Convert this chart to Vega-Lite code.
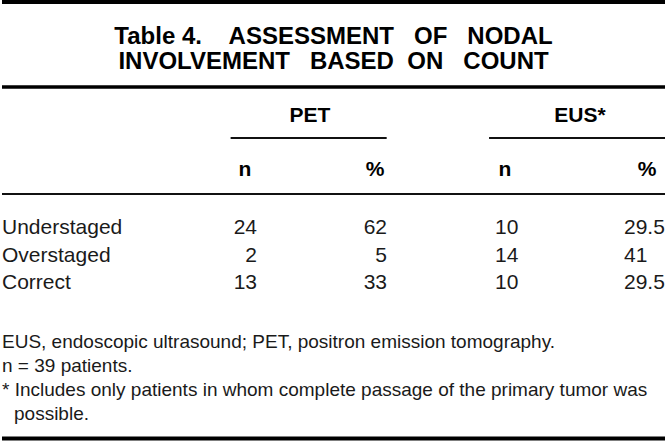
{
  "$schema": "https://vega.github.io/schema/vega-lite/v6.json",
  "width": 667,
  "height": 441,
  "autosize": {"type": "fit", "contains": "padding"},
  "padding": 0,
  "background": "white",
  "config": {"view": {"stroke": null}, "font": "Liberation Sans", "text": {"color": "#1a1a1a"}},
  "datasets": {
    "title": [
      {"line": 1, "text": "Table 4.\u00a0\u00a0\u00a0\u00a0ASSESSMENT\u00a0\u00a0\u00a0OF\u00a0\u00a0\u00a0NODAL"},
      {"line": 2, "text": "INVOLVEMENT\u00a0\u00a0\u00a0BASED\u00a0\u00a0ON\u00a0\u00a0\u00a0COUNT"}
    ],
    "groups": [{"method": "PET"}, {"method": "EUS*"}],
    "subheads": [
      {"method": "PET", "stat": "n"},
      {"method": "PET", "stat": "%"},
      {"method": "EUS*", "stat": "n"},
      {"method": "EUS*", "stat": "%"}
    ],
    "cells": [
      {"status": "Understaged", "method": "PET", "stat": "n", "value": "24"},
      {"status": "Understaged", "method": "PET", "stat": "%", "value": "62"},
      {"status": "Understaged", "method": "EUS*", "stat": "n", "value": "10"},
      {"status": "Understaged", "method": "EUS*", "stat": "%", "value": "29.5"},
      {"status": "Overstaged", "method": "PET", "stat": "n", "value": "2"},
      {"status": "Overstaged", "method": "PET", "stat": "%", "value": "5"},
      {"status": "Overstaged", "method": "EUS*", "stat": "n", "value": "14"},
      {"status": "Overstaged", "method": "EUS*", "stat": "%", "value": "41"},
      {"status": "Correct", "method": "PET", "stat": "n", "value": "13"},
      {"status": "Correct", "method": "PET", "stat": "%", "value": "33"},
      {"status": "Correct", "method": "EUS*", "stat": "n", "value": "10"},
      {"status": "Correct", "method": "EUS*", "stat": "%", "value": "29.5"}
    ],
    "notes": [
      {"line": 1, "text": "EUS, endoscopic ultrasound; PET, positron emission tomography."},
      {"line": 2, "text": "n = 39 patients."},
      {"line": 3, "text": "* Includes only patients in whom complete passage of the primary tumor was"},
      {"line": 4, "text": "possible."}
    ],
    "rules": [{"rule": "line"}]
  },
  "resolve": {"scale": {"x": "independent", "y": "independent"}},
  "layer": [
    {
      "data": {"name": "rules"},
      "mark": {"type": "rule", "strokeWidth": 4, "color": "#000000"},
      "encoding": {"y": {"datum": 2, "type": "quantitative", "scale": {"domain": [0, 441], "reverse": true, "nice": false, "zero": false}, "axis": null}}
    },
    {
      "data": {"name": "rules"},
      "mark": {"type": "rule", "strokeWidth": 3.5, "color": "#000000"},
      "encoding": {"y": {"datum": 87, "type": "quantitative", "scale": {"domain": [0, 441], "reverse": true, "nice": false, "zero": false}, "axis": null}}
    },
    {
      "data": {"name": "rules"},
      "mark": {"type": "rule", "strokeWidth": 4, "color": "#000000"},
      "encoding": {"y": {"datum": 438.5, "type": "quantitative", "scale": {"domain": [0, 441], "reverse": true, "nice": false, "zero": false}, "axis": null}}
    },
    {
      "data": {"name": "rules"},
      "mark": {"type": "rule", "strokeWidth": 2, "color": "#111111"},
      "encoding": {"y": {"datum": 194, "type": "quantitative", "scale": {"domain": [0, 441], "reverse": true, "nice": false, "zero": false}, "axis": null}}
    },
    {
      "data": {"name": "rules"},
      "mark": {"type": "rule", "strokeWidth": 2, "color": "#111111"},
      "encoding": {
        "x": {"datum": 230, "type": "quantitative", "scale": {"domain": [0, 667], "nice": false, "zero": false}, "axis": null},
        "x2": {"datum": 387},
        "y": {"datum": 138, "type": "quantitative", "scale": {"domain": [0, 441], "reverse": true, "nice": false, "zero": false}, "axis": null}
      }
    },
    {
      "data": {"name": "rules"},
      "mark": {"type": "rule", "strokeWidth": 2, "color": "#111111"},
      "encoding": {
        "x": {"datum": 490, "type": "quantitative", "scale": {"domain": [0, 667], "nice": false, "zero": false}, "axis": null},
        "x2": {"datum": 667},
        "y": {"datum": 138, "type": "quantitative", "scale": {"domain": [0, 441], "reverse": true, "nice": false, "zero": false}, "axis": null}
      }
    },
    {
      "data": {"name": "title"},
      "mark": {"type": "text", "fontSize": 24, "fontWeight": "bold", "align": "center", "baseline": "middle", "color": "#000000"},
      "encoding": {
        "y": {"field": "line", "type": "ordinal", "scale": {"type": "point", "domain": [1, 2], "range": [37, 62], "padding": 0}, "axis": null},
        "text": {"field": "text"}
      }
    },
    {
      "data": {"name": "groups"},
      "mark": {"type": "text", "fontSize": 21, "fontWeight": "bold", "align": "center", "baseline": "middle", "color": "#000000"},
      "encoding": {
        "x": {"field": "method", "type": "nominal", "scale": {"type": "point", "domain": ["PET", "EUS*"], "range": [308, 578], "padding": 0}, "axis": null},
        "y": {"datum": 116, "type": "quantitative", "scale": {"domain": [0, 441], "reverse": true, "nice": false, "zero": false}, "axis": null},
        "text": {"field": "method"}
      }
    },
    {
      "data": {"name": "subheads"},
      "transform": [{"filter": "datum.method === 'PET'"}],
      "mark": {"type": "text", "fontSize": 21, "fontWeight": "bold", "align": "center", "baseline": "middle", "color": "#000000"},
      "encoding": {
        "x": {"field": "stat", "type": "nominal", "scale": {"type": "point", "domain": ["n", "%"], "range": [243, 373], "padding": 0}, "axis": null},
        "y": {"datum": 170, "type": "quantitative", "scale": {"domain": [0, 441], "reverse": true, "nice": false, "zero": false}, "axis": null},
        "text": {"field": "stat"}
      }
    },
    {
      "data": {"name": "subheads"},
      "transform": [{"filter": "datum.method === 'EUS*'"}],
      "mark": {"type": "text", "fontSize": 21, "fontWeight": "bold", "align": "center", "baseline": "middle", "color": "#000000"},
      "encoding": {
        "x": {"field": "stat", "type": "nominal", "scale": {"type": "point", "domain": ["n", "%"], "range": [503, 645], "padding": 0}, "axis": null},
        "y": {"datum": 170, "type": "quantitative", "scale": {"domain": [0, 441], "reverse": true, "nice": false, "zero": false}, "axis": null},
        "text": {"field": "stat"}
      }
    },
    {
      "data": {"name": "cells"},
      "transform": [{"filter": "datum.method === 'PET' && datum.stat === 'n'"}],
      "mark": {"type": "text", "fontSize": 21, "align": "left", "baseline": "middle"},
      "encoding": {
        "x": {"datum": 0, "type": "quantitative", "scale": {"domain": [0, 667], "nice": false, "zero": false}, "axis": null},
        "y": {"field": "status", "type": "nominal", "scale": {"type": "point", "domain": ["Understaged", "Overstaged", "Correct"], "range": [228, 283], "padding": 0}, "axis": null},
        "text": {"field": "status"}
      }
    },
    {
      "data": {"name": "cells"},
      "transform": [{"filter": "datum.method === 'PET'"}],
      "mark": {"type": "text", "fontSize": 21, "align": "right", "baseline": "middle"},
      "encoding": {
        "x": {"field": "stat", "type": "nominal", "scale": {"type": "point", "domain": ["n", "%"], "range": [255, 385], "padding": 0}, "axis": null},
        "y": {"field": "status", "type": "nominal", "scale": {"type": "point", "domain": ["Understaged", "Overstaged", "Correct"], "range": [228, 283], "padding": 0}, "axis": null},
        "text": {"field": "value"}
      }
    },
    {
      "data": {"name": "cells"},
      "transform": [{"filter": "datum.method === 'EUS*'"}],
      "mark": {"type": "text", "fontSize": 21, "align": "left", "baseline": "middle"},
      "encoding": {
        "x": {"field": "stat", "type": "nominal", "scale": {"type": "point", "domain": ["n", "%"], "range": [493, 622], "padding": 0}, "axis": null},
        "y": {"field": "status", "type": "nominal", "scale": {"type": "point", "domain": ["Understaged", "Overstaged", "Correct"], "range": [228, 283], "padding": 0}, "axis": null},
        "text": {"field": "value"}
      }
    },
    {
      "data": {"name": "notes"},
      "transform": [{"filter": "datum.line < 4"}],
      "mark": {"type": "text", "fontSize": 19, "align": "left", "baseline": "middle"},
      "encoding": {
        "x": {"datum": 0, "type": "quantitative", "scale": {"domain": [0, 667], "nice": false, "zero": false}, "axis": null},
        "y": {"field": "line", "type": "ordinal", "scale": {"type": "point", "domain": [1, 2, 3, 4], "range": [342, 414], "padding": 0}, "axis": null},
        "text": {"field": "text"}
      }
    },
    {
      "data": {"name": "notes"},
      "transform": [{"filter": "datum.line === 4"}],
      "mark": {"type": "text", "fontSize": 19, "align": "left", "baseline": "middle", "dx": 12},
      "encoding": {
        "x": {"datum": 0, "type": "quantitative", "scale": {"domain": [0, 667], "nice": false, "zero": false}, "axis": null},
        "y": {"field": "line", "type": "ordinal", "scale": {"type": "point", "domain": [1, 2, 3, 4], "range": [342, 414], "padding": 0}, "axis": null},
        "text": {"field": "text"}
      }
    }
  ]
}
